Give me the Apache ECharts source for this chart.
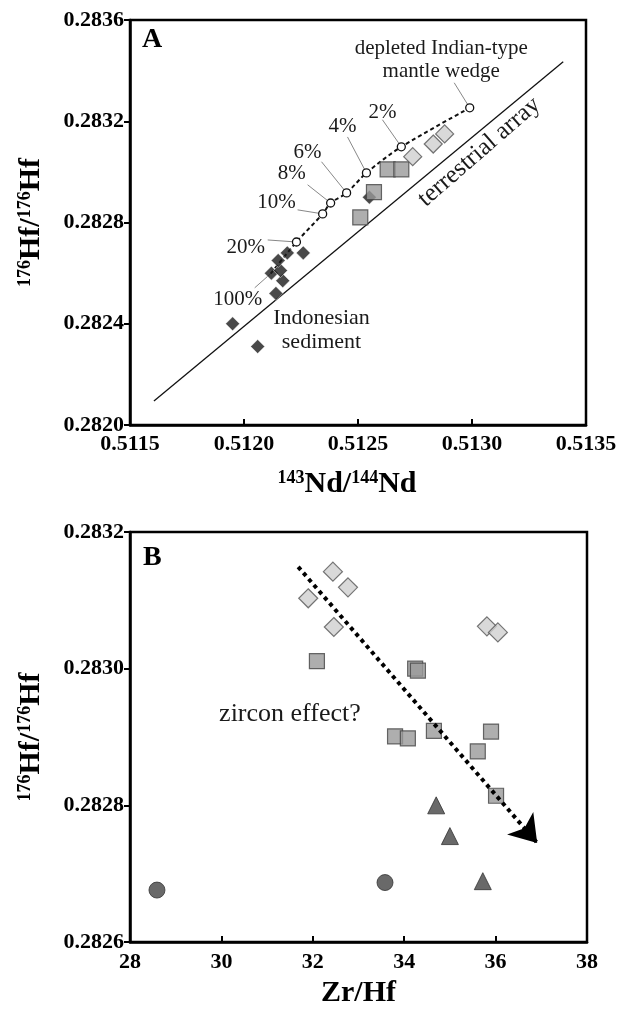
<!DOCTYPE html>
<html>
<head>
<meta charset="utf-8">
<script src="https://cdn.jsdelivr.net/npm/echarts@6/dist/echarts.min.js"></script>
<style>
html, body { margin: 0; padding: 0; background: #fff; }
#main { width: 631px; height: 1009px; }
</style>
</head>
<body>
<div id="main"></div>
<script>
var FONT = 'Liberation Serif';

// ---- panel A : 143Nd/144Nd vs 176Hf/177Hf ----
var sedimentA = [
    [0.51195, 0.28240], [0.51206, 0.28231], [0.51214, 0.28252], [0.51217, 0.28257],
    [0.51212, 0.28260], [0.51216, 0.28261], [0.51215, 0.28265], [0.51219, 0.28268],
    [0.51226, 0.28268], [0.51255, 0.28290]
];
var squaresA = [
    [0.51251, 0.28282], [0.51257, 0.28292], [0.51263, 0.28301], [0.51269, 0.28301]
];
var diamondsA = [
    [0.51274, 0.28306], [0.51283, 0.28311], [0.51288, 0.28315]
];
var terrestrialArray = [[0.511605, 0.282095], [0.51340, 0.283435]];
// mixing curve, from 100% sediment to the depleted mantle end member
var mixCurve = [
    [0.512117, 0.282598], [0.51223, 0.282723], [0.512345, 0.282834], [0.51238, 0.282877],
    [0.51245, 0.282917], [0.512537, 0.282996], [0.51269, 0.283099], [0.51299, 0.283253]
];
var mixLabels = ['100%', '20%', '10%', '8%', '6%', '4%', '2%', 'depleted Indian-type\nmantle wedge'];
var mixLabelPos = [
    [0.511973, 0.282494], [0.512008, 0.28270], [0.512143, 0.282881], [0.512209, 0.282992],
    [0.512279, 0.283075], [0.512432, 0.283178], [0.512607, 0.283233], [0.512865, 0.283443]
];
var leaderStart = [
    [0.512047, 0.282542], [0.512104, 0.282731], [0.512235, 0.28285], [0.512279, 0.282949],
    [0.51234, 0.28304], [0.512454, 0.283138], [0.512607, 0.283206], [0.512922, 0.283352]
];

// ---- panel B : Zr/Hf vs 176Hf/177Hf ----
var diamondsB = [
    [32.44, 0.283142], [32.77, 0.283119], [31.90, 0.283103], [32.46, 0.283061],
    [35.81, 0.283062], [36.05, 0.283053]
];
var squaresB = [
    [32.09, 0.283011], [34.24, 0.283000], [34.30, 0.282997], [33.80, 0.282901],
    [34.08, 0.282898], [34.65, 0.282909], [35.90, 0.282908], [35.61, 0.282879],
    [36.01, 0.282814]
];
var trianglesB = [[34.70, 0.282800], [35.00, 0.282755], [35.72, 0.282689]];
var circlesB = [[28.59, 0.282676], [33.58, 0.282687]];
var zirconArrow = [[31.68, 0.283149], [36.91, 0.282745]];

function axisName(a, b, c, d) {
    return '{s|' + a + '}{m|' + b + '}{s|' + c + '}{m|' + d + '}';
}
var nameRich = {
    m: { fontSize: 30, fontWeight: 'bold', fontFamily: FONT, color: '#000' },
    s: { fontSize: 18, fontWeight: 'bold', fontFamily: FONT, color: '#000', padding: [0, 0, 12, 0] }
};
var tickLabel = { fontSize: 22, fontWeight: 'bold', fontFamily: FONT, color: '#000' };
var boxLine = { lineStyle: { color: '#000', width: 2.5 } };

function textSeries(grid, pts, texts, size, rotate) {
    return {
        type: 'scatter', xAxisIndex: grid, yAxisIndex: grid, symbolSize: 1, silent: true,
        itemStyle: { color: '#fff', opacity: 0 }, z: 6,
        data: pts.map(function (p, i) { return { value: p, name: texts[i] }; }),
        label: {
            show: true, position: 'inside', formatter: '{b}', rotate: rotate || 0,
            fontFamily: FONT, fontSize: size, color: '#1a1a1a', opacity: 1,
            textBorderWidth: 0, lineHeight: size + 2, align: 'center'
        }
    };
}

var chart = echarts.init(document.getElementById('main'));
chart.setOption({
    backgroundColor: '#fff',
    animation: false,
    grid: [
        { left: 130, right: 45, top: 20, height: 405, show: true, borderColor: '#000', borderWidth: 2.5 },
        { left: 130, right: 44, top: 532, height: 413, show: true, borderColor: '#000', borderWidth: 2.5 }
    ],
    graphic: [
        { type: 'text', left: 142, top: 26, style: { text: 'A', fontFamily: FONT, fontWeight: 'bold', fontSize: 28, fill: '#000' } },
        { type: 'text', left: 143, top: 544, style: { text: 'B', fontFamily: FONT, fontWeight: 'bold', fontSize: 28, fill: '#000' } }
    ],
    xAxis: [
        {
            gridIndex: 0, type: 'value', min: 0.5115, max: 0.5135, interval: 0.0005,
            name: axisName('143', 'Nd/', '144', 'Nd'), nameLocation: 'middle', nameGap: 44,
            nameTextStyle: { rich: nameRich, padding: [0, 22, 0, 0] },
            axisLine: boxLine, splitLine: { show: false },
            axisTick: { inside: true, length: 6, lineStyle: { color: '#000', width: 2 } },
            axisLabel: Object.assign({ margin: 8, formatter: function (v) { return v.toFixed(4); } }, tickLabel)
        },
        {
            gridIndex: 1, type: 'value', min: 28, max: 38, interval: 2,
            name: '{m|Zr/Hf}', nameLocation: 'middle', nameGap: 36,
            nameTextStyle: { rich: nameRich },
            axisLine: boxLine, splitLine: { show: false },
            axisTick: { inside: true, length: 6, lineStyle: { color: '#000', width: 2 } },
            axisLabel: Object.assign({ margin: 9 }, tickLabel)
        }
    ],
    yAxis: [
        {
            gridIndex: 0, type: 'value', min: 0.2820, max: 0.2836, interval: 0.0004,
            name: axisName('176', 'Hf/', '176', 'Hf'), nameLocation: 'middle', nameGap: 84,
            nameTextStyle: { rich: nameRich },
            axisLine: boxLine, splitLine: { show: false },
            axisTick: { inside: false, length: 6, lineStyle: { color: '#000', width: 2 } },
            axisLabel: Object.assign({ margin: 6, formatter: function (v) { return v.toFixed(4); } }, tickLabel)
        },
        {
            gridIndex: 1, type: 'value', min: 0.2826, max: 0.2832, interval: 0.0002,
            name: axisName('176', 'Hf/', '176', 'Hf'), nameLocation: 'middle', nameGap: 84,
            nameTextStyle: { rich: nameRich },
            axisLine: boxLine, splitLine: { show: false },
            axisTick: { inside: false, length: 6, lineStyle: { color: '#000', width: 2 } },
            axisLabel: Object.assign({ margin: 6, formatter: function (v) { return v.toFixed(4); } }, tickLabel)
        }
    ],
    series: [
        // panel A
        {
            type: 'line', xAxisIndex: 0, yAxisIndex: 0, data: terrestrialArray, showSymbol: false,
            lineStyle: { color: '#111', width: 1.3 }, z: 2, silent: true
        },
        {
            type: 'lines', coordinateSystem: 'cartesian2d', xAxisIndex: 0, yAxisIndex: 0, z: 2, silent: true,
            data: leaderStart.map(function (p, i) { return { coords: [p, mixCurve[i]] }; }),
            lineStyle: { color: '#888', width: 1, opacity: 1 }
        },
        {
            type: 'line', xAxisIndex: 0, yAxisIndex: 0, smooth: 0.3, z: 3, silent: true,
            data: mixCurve.map(function (p, i) {
                return { value: p, symbolSize: i === 0 ? 0 : 8 };
            }),
            symbol: 'circle', showAllSymbol: true,
            itemStyle: { color: '#fff', borderColor: '#111', borderWidth: 1.3 },
            lineStyle: { color: '#111', width: 2, type: [4, 3] }
        },
        {
            type: 'scatter', xAxisIndex: 0, yAxisIndex: 0, data: sedimentA, symbol: 'diamond', symbolSize: 14,
            itemStyle: { color: '#1c1c1c', borderColor: '#fff', borderWidth: 0.6 }, z: 4
        },
        {
            type: 'scatter', xAxisIndex: 0, yAxisIndex: 0, data: squaresA, symbol: 'rect', symbolSize: 15,
            itemStyle: { color: '#9a9a9a', borderColor: '#444', borderWidth: 1.2 }, z: 4
        },
        {
            type: 'scatter', xAxisIndex: 0, yAxisIndex: 0, data: diamondsA, symbol: 'diamond', symbolSize: 18,
            itemStyle: { color: '#cfcfcf', borderColor: '#555', borderWidth: 1.2 }, z: 4
        },
        textSeries(0, mixLabelPos, mixLabels, 21),
        textSeries(0, [[0.51234, 0.282375]], ['Indonesian\nsediment'], 22),
        textSeries(0, [[0.513032, 0.283079]], ['terrestrial array'], 25, 41),
        // panel B
        {
            type: 'scatter', xAxisIndex: 1, yAxisIndex: 1, data: diamondsB, symbol: 'diamond', symbolSize: 19,
            itemStyle: { color: '#cfcfcf', borderColor: '#555', borderWidth: 1.2 }, z: 4
        },
        {
            type: 'scatter', xAxisIndex: 1, yAxisIndex: 1, data: squaresB, symbol: 'rect', symbolSize: 15,
            itemStyle: { color: '#9a9a9a', borderColor: '#444', borderWidth: 1.2 }, z: 4
        },
        {
            type: 'scatter', xAxisIndex: 1, yAxisIndex: 1, data: trianglesB, symbol: 'triangle', symbolSize: 17,
            itemStyle: { color: '#444', borderColor: '#333', borderWidth: 1 }, z: 4
        },
        {
            type: 'scatter', xAxisIndex: 1, yAxisIndex: 1, data: circlesB, symbol: 'circle', symbolSize: 16,
            itemStyle: { color: '#444', borderColor: '#333', borderWidth: 1 }, z: 4
        },
        {
            type: 'lines', coordinateSystem: 'cartesian2d', xAxisIndex: 1, yAxisIndex: 1, z: 5, silent: true,
            data: [{ coords: zirconArrow }],
            symbol: ['none', 'arrow'], symbolSize: 26,
            lineStyle: { color: '#000', width: 4, type: [4, 4], cap: 'butt', opacity: 1 }
        },
        textSeries(1, [[31.50, 0.282934]], ['zircon effect?'], 26)
    ]
});
</script>
</body>
</html>
